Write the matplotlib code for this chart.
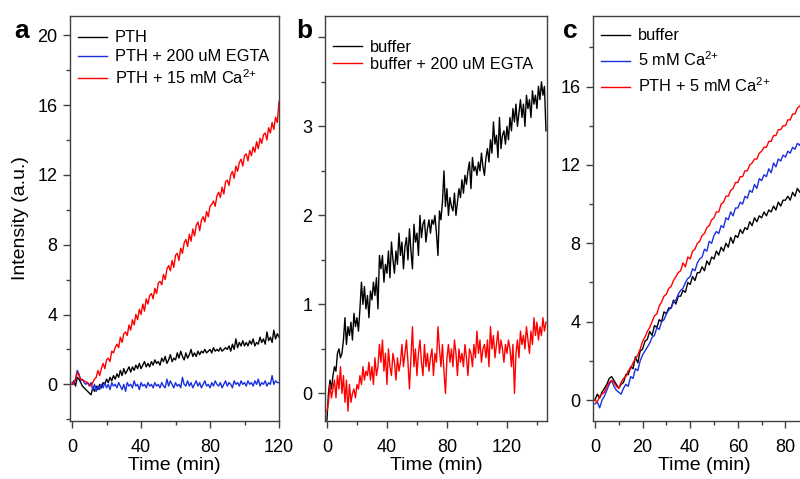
"""
    Intensity vs time, three panels (a, b, c).
"""

import matplotlib
matplotlib.use("Agg")
import matplotlib.pyplot as plt
import numpy as np
from matplotlib.ticker import MultipleLocator

plt.rcParams['font.family'] = ['Liberation Sans', 'DejaVu Sans']
plt.rcParams['mathtext.fontset'] = 'custom'
plt.rcParams['mathtext.rm'] = 'Liberation Sans'
plt.rcParams['mathtext.it'] = 'Liberation Sans'

#########################
# data
#########################

# panel a, one sample per minute, 0..120 min
a_pth = [0.0, 0.2, -0.1, 0.4, 0.3, 0.1, -0.1, -0.2, -0.3, -0.4,
         -0.5, -0.6, -0.2, -0.4, -0.1, -0.3, 0.0, -0.2, 0.1, 0.0,
         0.3, 0.1, 0.4, 0.2, 0.5, 0.3, 0.6, 0.4, 0.8, 0.5,
         0.9, 0.6, 0.8, 1.0, 0.7, 1.0, 0.8, 1.1, 0.9, 1.2,
         0.9, 1.1, 1.3, 1.0, 1.2, 1.0, 1.3, 1.1, 1.4, 1.2,
         1.3, 1.1, 1.5, 1.3, 1.6, 1.2, 1.4, 1.7, 1.3, 1.5,
         1.4, 1.8, 1.5, 1.9, 1.6, 1.4, 1.8, 1.5, 1.7, 2.0,
         1.6, 1.8, 1.6, 1.9, 1.7, 1.9, 1.8, 2.0, 1.8, 1.9,
         2.0, 1.8, 2.1, 1.9, 2.0, 1.9, 2.1, 1.9, 2.0, 2.1,
         2.0, 2.2, 1.9, 2.3, 2.0, 2.6, 2.1, 2.4, 2.2, 2.5,
         2.2, 2.4, 2.2, 2.5, 2.3, 2.6, 2.2, 2.4, 2.3, 2.7,
         2.4, 2.6, 2.3, 3.0, 2.5, 2.7, 2.4, 3.1, 2.6, 2.9,
         2.7]
a_egta = [0.1, 0.0, 0.3, 0.8, 0.6, 0.2, 0.3, 0.1, 0.0, 0.1,
          -0.1, 0.1, -0.3, 0.0, -0.4, -0.1, -0.3, 0.0, -0.2, 0.1,
          -0.2, 0.0, -0.3, 0.1, -0.1, 0.0, -0.2, 0.1, -0.1, -0.3,
          0.0, -0.4, 0.1, -0.1, 0.0, -0.2, 0.2, -0.1, 0.0, -0.3,
          0.1, -0.1, 0.0, -0.2, 0.1, -0.1, 0.0, -0.2, 0.1, -0.1,
          0.0, -0.2, 0.1, -0.1, -0.2, 0.3, -0.1, 0.2, 0.0, -0.2,
          0.1, -0.1, 0.0, -0.2, 0.4, 0.0, -0.1, 0.2, -0.1, 0.1,
          -0.2, 0.0, 0.2, -0.1, 0.1, -0.2, 0.0, 0.2, -0.1, 0.0,
          -0.2, 0.1, -0.1, 0.2, 0.0, -0.1, 0.1, -0.2, 0.0, 0.2,
          -0.1, 0.1, 0.0, -0.2, 0.2, 0.0, 0.1, -0.1, 0.2, 0.0,
          0.1, -0.1, 0.2, 0.0, 0.1, -0.1, 0.2, 0.0, 0.3, -0.1,
          0.1, 0.0, 0.2, -0.1, 0.1, 0.0, 0.5, 0.0, 0.2, 0.1,
          0.1]
a_ca = [0.0, 0.1, 0.3, 0.7, 0.5, 0.3, 0.25, 0.2, 0.15, 0.1,
        0.0, -0.1, 0.1, 0.3, 0.4, 0.8, 0.5, 0.9, 1.2, 0.9,
        1.4, 1.5, 1.3, 1.9, 1.8, 2.1, 2.3, 2.1, 2.7, 2.4,
        2.9, 3.0, 2.8, 3.4, 3.1, 3.7, 3.4, 4.0, 3.7, 4.3,
        4.0, 4.6, 4.2, 4.9, 4.6, 5.1, 5.2, 4.9, 5.5, 5.2,
        5.8, 5.9, 5.7, 6.3, 6.0, 6.6, 6.8, 6.5, 7.1, 6.7,
        7.4, 7.5, 7.1, 7.8, 7.5, 8.1, 8.3, 7.9, 8.6, 8.2,
        8.9, 8.5, 9.1, 9.3, 8.8, 9.4, 9.6, 9.3, 9.9, 9.6,
        10.2, 10.3, 10.5, 10.2, 10.8, 11.0, 10.7, 11.3, 10.9, 11.6,
        11.7, 11.4, 12.0, 12.2, 11.8, 12.5, 12.2, 12.7, 12.9, 12.5,
        13.1, 13.2, 12.8, 13.4, 13.1, 13.6, 13.3, 13.9, 13.5, 14.1,
        13.8, 14.3, 14.4, 14.0, 14.7, 14.4, 15.0, 14.6, 15.3, 15.0,
        16.2]

# panel b, one sample per minute, 0..146 min
b_buffer = [-0.3, 0.0, 0.15, 0.05, 0.2, 0.3, 0.25, 0.45, 0.5, 0.4,
            0.45, 0.6, 0.85, 0.55, 0.75, 0.65, 0.8, 0.6, 0.9, 0.75,
            0.85, 0.7, 0.95, 1.25, 1.0, 1.2, 0.95, 1.1, 0.85, 1.15,
            1.05, 1.25, 1.1, 1.3, 0.95, 1.55, 1.4, 1.55, 1.25, 1.45,
            1.35, 1.6, 1.3, 1.7, 1.5, 1.35, 1.6, 1.45, 1.8, 1.55,
            1.7, 1.4, 1.65, 1.75, 1.5, 1.85, 1.6, 1.4, 1.9, 1.7,
            1.8, 1.55, 2.0, 1.75, 1.9, 1.95, 1.7, 1.85, 1.95, 1.8,
            1.95, 1.9, 2.0, 1.8, 1.55, 2.05, 1.95, 2.15, 2.5, 2.1,
            2.3, 2.0, 2.2, 2.1, 2.05, 2.25, 2.0, 2.15, 2.3, 2.2,
            2.4, 2.25, 2.45, 2.35, 2.5, 2.6, 2.3, 2.65, 2.5, 2.55,
            2.45, 2.6, 2.5, 2.7, 2.55, 2.45, 2.65, 2.75, 2.6, 2.85,
            2.7, 3.05, 2.8, 2.9, 2.65, 3.1, 2.75, 2.9, 2.95, 2.8,
            3.0, 2.85, 3.1, 2.95, 3.2, 3.05, 3.25, 3.0, 3.15, 3.3,
            3.1, 3.25, 3.0, 3.35, 3.2, 3.3, 3.1, 3.4, 3.25, 3.35,
            3.2, 3.45, 3.3, 3.5, 3.35, 3.45, 2.95]
b_egta = [-0.2, -0.1, 0.1, -0.05, 0.05, 0.15, -0.05, 0.2, 0.05, 0.3,
          0.0, 0.2, -0.1, 0.15, -0.2, 0.1, -0.1, 0.0, 0.05, -0.05,
          0.1, 0.05, 0.2, 0.1, 0.3, 0.15, 0.25, 0.2, 0.35, 0.15,
          0.3, 0.1, 0.4, 0.2, 0.3, 0.55, 0.35, 0.6, 0.25, 0.45,
          0.1, 0.5, 0.3, 0.2, 0.45, 0.35, 0.15, 0.4, 0.25, 0.35,
          0.55, 0.3, 0.45, 0.6, 0.35, 0.05, 0.4, 0.75, 0.3, 0.5,
          0.2, 0.45, 0.6, 0.35, 0.2, 0.55, 0.3, 0.45, 0.25, 0.4,
          0.5, 0.2, 0.45, 0.35, 0.75, 0.5, 0.3, 0.55, 0.25, 0.0,
          0.4, 0.55, 0.35, 0.5, 0.3, 0.6, 0.45, 0.2, 0.5, 0.35,
          0.45, 0.3, 0.55, 0.4, 0.2, 0.5, 0.45, 0.3, 0.55, 0.4,
          0.7, 0.45, 0.6, 0.35, 0.5, 0.55, 0.4, 0.6, 0.3, 0.75,
          0.5, 0.65, 0.4, 0.55, 0.7, 0.45, 0.6, 0.5, 0.35, 0.55,
          0.45, 0.6, 0.5, 0.3, 0.55, 0.0, 0.45, 0.6, 0.4, 0.7,
          0.55, 0.65, 0.5, 0.75, 0.6, 0.45, 0.7, 0.55, 0.85, 0.65,
          0.8, 0.6, 0.75, 0.65, 0.85, 0.7, 0.8]

# panel c, one sample per minute, 0..92 min
c_buffer = [0.0, 0.3, 0.1, 0.4, 0.6, 0.8, 1.1, 1.2, 1.0, 0.8,
            0.6, 0.8, 0.9, 1.3, 1.3, 1.7, 1.6, 2.2, 1.9, 2.5,
            2.6, 3.0, 3.1, 3.5, 3.3, 3.8, 3.7, 4.1, 4.0, 4.5,
            4.4, 4.7, 4.7, 5.1, 4.9, 5.3, 5.3, 5.6, 5.5, 6.0,
            5.9, 6.3, 6.1, 6.5, 6.5, 6.8, 6.6, 7.1, 6.9, 7.3,
            7.2, 7.6, 7.4, 7.8, 7.6, 8.0, 7.8, 8.3, 8.0, 8.4,
            8.3, 8.7, 8.5, 8.8, 8.7, 9.1, 8.9, 9.3, 9.1, 9.4,
            9.3, 9.6, 9.4, 9.7, 9.6, 9.9, 9.7, 10.1, 9.9, 10.2,
            10.2, 10.4, 10.2, 10.6, 10.4, 10.8, 10.6, 10.9, 10.8, 11.1,
            10.9, 11.2, 11.1]
c_ca = [-0.2, -0.1, -0.4, 0.0, 0.2, 0.5, 0.8, 1.0, 0.7, 0.5,
        0.4, 0.3, 0.6, 0.8, 0.7, 1.2, 1.1, 1.6, 1.5, 2.0,
        2.3, 2.5, 2.7, 2.9, 3.2, 3.3, 3.7, 3.6, 4.0, 4.1,
        4.4, 4.6, 4.7, 5.0, 5.1, 5.4, 5.6, 5.7, 6.0, 6.2,
        6.3, 6.7, 6.6, 7.0, 7.2, 7.3, 7.7, 7.6, 8.1, 8.0,
        8.4, 8.6, 8.5, 8.9, 8.8, 9.3, 9.2, 9.6, 9.4, 9.8,
        9.8, 10.1, 10.0, 10.4, 10.3, 10.7, 10.6, 11.0, 10.8, 11.3,
        11.2, 11.5, 11.4, 11.8, 11.6, 12.1, 11.9, 12.3, 12.2, 12.5,
        12.4, 12.7, 12.6, 12.9, 12.8, 13.1, 13.0, 13.3, 13.2, 13.5,
        13.4, 13.7, 13.6]
c_pth_ca = [0.0, -0.1, 0.2, 0.3, 0.4, 0.7, 0.9, 1.0, 0.9, 0.7,
            0.6, 0.9, 1.1, 1.2, 1.5, 1.6, 1.9, 2.1, 2.3, 2.6,
            3.0, 3.2, 3.5, 3.7, 4.0, 4.3, 4.4, 4.8, 5.0, 5.3,
            5.4, 5.7, 5.8, 6.1, 6.3, 6.5, 6.6, 7.0, 6.8, 7.3,
            7.2, 7.6, 7.7, 8.0, 8.1, 8.4, 8.5, 8.8, 8.9, 9.2,
            9.3, 9.6, 9.6, 10.0, 10.1, 10.4, 10.4, 10.7, 10.8, 11.1,
            11.1, 11.4, 11.4, 11.7, 11.7, 12.0, 12.1, 12.3, 12.3, 12.6,
            12.7, 12.9, 12.9, 13.2, 13.2, 13.5, 13.5, 13.8, 13.8, 14.0,
            14.0, 14.3, 14.3, 14.6, 14.6, 14.9, 15.0, 15.2, 15.2, 15.5,
            15.5, 15.8, 15.8]

CA = r'Ca$^{2{+}}$'
labels_a = ['PTH', 'PTH + 200 uM EGTA', 'PTH + 15 mM ' + CA]
labels_b = ['buffer', 'buffer + 200 uM EGTA']
labels_c = ['buffer', '5 mM ' + CA, 'PTH + 5 mM ' + CA]

BLACK, BLUE, RED = '#000000', '#1a2fe0', '#ff0000'
W, H = 800, 479


def minutes(vals):
    return np.arange(len(vals))


def style(ax, xmaj, xmin, ymaj, ymin):
    ax.xaxis.set_major_locator(MultipleLocator(xmaj))
    ax.xaxis.set_minor_locator(MultipleLocator(xmin))
    ax.yaxis.set_major_locator(MultipleLocator(ymaj))
    ax.yaxis.set_minor_locator(MultipleLocator(ymin))
    for s in ax.spines.values():
        s.set_color('#404040')
        s.set_linewidth(1.0)
    ax.tick_params(which='both', direction='out', top=False, right=False,
                   color='#404040', width=1.0)
    ax.tick_params(which='major', length=5, labelsize=13)
    ax.tick_params(which='minor', length=3)
    ax.tick_params(axis='x', which='major', pad=8)
    ax.tick_params(axis='y', which='major', pad=4)
    ax.set_xlabel('Time (min)', fontsize=14, labelpad=1)


def add_axes(fig, left_px, width_px):
    top_px, bot_px = 16, 421
    return fig.add_axes([left_px / W, 1 - bot_px / H,
                         width_px / W, (bot_px - top_px) / H])


def legend(ax, y_anchor, spacing):
    ax.legend(loc='upper left', bbox_to_anchor=(0.0, y_anchor), frameon=False,
              fontsize=11.8, handlelength=1.75, handletextpad=0.5,
              labelspacing=spacing, borderpad=0.3, borderaxespad=0.2)


fig = plt.figure(figsize=(8.0, 4.79), dpi=100)
lw = 1.0

# panel a
ax = add_axes(fig, 70, 209)
ax.plot(minutes(a_pth), a_pth, color=BLACK, lw=lw, label=labels_a[0])
ax.plot(minutes(a_egta), a_egta, color=BLUE, lw=lw, label=labels_a[1])
ax.plot(minutes(a_ca), a_ca, color=RED, lw=lw, label=labels_a[2])
ax.set_xlim(-1.2, 120)
ax.set_ylim(-2.1, 21.1)
style(ax, 40, 20, 4, 2)
ax.set_ylabel('Intensity (a.u.)', fontsize=14, labelpad=6)
legend(ax, 0.985, 0.25)

# panel b
ax = add_axes(fig, 325, 222)
ax.plot(minutes(b_buffer), b_buffer, color=BLACK, lw=lw, label=labels_b[0])
ax.plot(minutes(b_egta), b_egta, color=RED, lw=lw, label=labels_b[1])
ax.set_xlim(-1.3, 146.7)
ax.set_ylim(-0.31, 4.24)
style(ax, 40, 20, 1, 0.5)
ax.set_yticks([0, 1, 2, 3, 4], ['0', '1', '2', '3', ''])
legend(ax, 0.962, 0.15)

# panel c (runs off the right edge)
ax = add_axes(fig, 593, 222)
ax.plot(minutes(c_buffer), c_buffer, color=BLACK, lw=lw, label=labels_c[0])
ax.plot(minutes(c_ca), c_ca, color=BLUE, lw=lw, label=labels_c[1])
ax.plot(minutes(c_pth_ca), c_pth_ca, color=RED, lw=lw, label=labels_c[2])
ax.set_xlim(-0.8, 92.4)
ax.set_ylim(-1.07, 19.6)
style(ax, 20, 10, 4, 2)
legend(ax, 0.99, 0.45)

# panel letters
for x_px, letter in [(14, 'a'), (296, 'b'), (563, 'c')]:
    fig.text(x_px / W, 1 - 38 / H, letter, fontsize=19, fontweight='bold',
             va='baseline', ha='left')

fig.savefig('out.png', dpi=100)
